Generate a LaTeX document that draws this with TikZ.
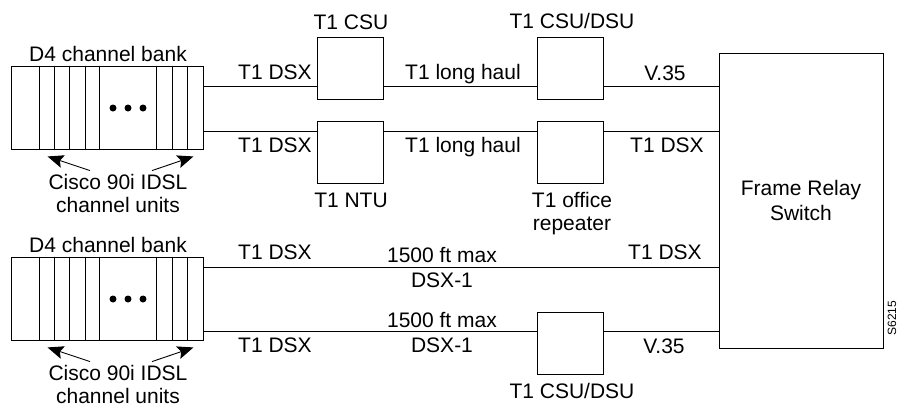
\documentclass[tikz,border=0pt]{standalone}
\usepackage{fontspec}
\setmainfont{Liberation Sans}
\usetikzlibrary{arrows.meta,positioning,calc}
\tikzset{
  devbox/.style={rectangle,draw,line width=0.9pt,inner sep=0pt,
                 minimum width=66pt,minimum height=62pt},
  bankbox/.style={rectangle,draw,line width=0.9pt,inner sep=0pt,
                  minimum width=192pt,minimum height=83pt},
  swbox/.style={rectangle,draw,line width=0.9pt,inner sep=0pt,
                minimum width=164pt,minimum height=295pt,
                font=\fontsize{21}{25}\selectfont,align=center},
  lbl/.style={font=\fontsize{21}{23}\selectfont,anchor=base,
              inner sep=0pt,align=center},
  wire/.style={line width=0.9pt},
  ptr/.style={-{Stealth[length=16pt,width=13pt,inset=3pt]},line width=0.9pt},
}

\begin{document}
\begin{tikzpicture}[x=1pt,y=-1pt]
  \useasboundingbox (0,0) rectangle (898,408);

  % channel banks
  \node[bankbox] (bankA) at (107,107.5){};
  \node[bankbox] (bankB) at (107,298.5){};
  \foreach \b in {bankA,bankB}{
    \foreach \sx in {29,44,59,75,89,146,162,177}
      \draw[wire] ($(\b.north west)+(\sx,0)$) -- ($(\b.south west)+(\sx,0)$);
    \foreach \dx in {6,21,36}
      \fill ($(\b.center)+(\dx,0.5)$) circle (3.5pt);
  }
  \node[lbl] (bankAlbl) at (108,61){D4 channel bank};
  \node[lbl] (bankBlbl) at (108,252){D4 channel bank};

  % base anchor sits on the last line
  \node[lbl] (unitsA) at (118,212){Cisco 90i IDSL\\channel units};
  \node[lbl] (unitsB) at (118,403){Cisco 90i IDSL\\channel units};
  \coordinate (tipAl) at ($(bankA.south west)+(37,7)$);
  \coordinate (tipAr) at ($(bankA.south east)+(-10,7)$);
  \coordinate (tipBl) at ($(bankB.south west)+(37,7)$);
  \coordinate (tipBr) at ($(bankB.south east)+(-10,7)$);
  \draw[ptr] ($(unitsA.north)+(-28,-3)$) -- (tipAl);
  \draw[ptr] ($(unitsA.north)+(34,-3)$) -- (tipAr);
  \draw[ptr] ($(unitsB.north)+(-28,-3)$) -- (tipBl);
  \draw[ptr] ($(unitsB.north)+(34,-3)$) -- (tipBr);

  % line units
  \node[devbox] (csu)     at (350,68){};
  \node[devbox] (ntu)     at (350,152){};
  \node[devbox] (csudsuA) at (570.5,68){};
  \node[devbox] (rptr)    at (570.5,152){};
  \node[devbox] (csudsuB) at (570.5,343){};
  \node[swbox]  (frs)     at (801,200.5){Frame Relay\\Switch};

  \node[lbl] (csulbl)     at (351,29){T1 CSU};
  \node[lbl] (csudsuAlbl) at (572,28){T1 CSU/DSU};
  \node[lbl] (ntulbl)     at (351,207){T1 NTU};
  \node[lbl] (rptrlbl)    at (572,230){T1 office\\repeater};
  \node[lbl] (csudsuBlbl) at (572,398){T1 CSU/DSU};

  % rows
  \coordinate (rowA) at (0,86);
  \coordinate (rowB) at (0,131);
  \coordinate (rowC) at (0,267);
  \coordinate (rowD) at (0,331);

  \draw[wire] (bankA.east |- rowA) -- (csu.west |- rowA);
  \draw[wire] (csu.east |- rowA) -- (csudsuA.west |- rowA);
  \draw[wire] (csudsuA.east |- rowA) -- (frs.west |- rowA);

  \draw[wire] (bankA.east |- rowB) -- (ntu.west |- rowB);
  \draw[wire] (ntu.east |- rowB) -- (rptr.west |- rowB);
  \draw[wire] (rptr.east |- rowB) -- (frs.west |- rowB);

  \draw[wire] (bankB.east |- rowC) -- (frs.west |- rowC);

  \draw[wire] (bankB.east |- rowD) -- (csudsuB.west |- rowD);
  \draw[wire] (csudsuB.east |- rowD) -- (frs.west |- rowD);

  % line labels
  \node[lbl] (dsxA)  at (275,79){T1 DSX};
  \node[lbl] (haulA) at (463,79){T1 long haul};
  \node[lbl] (vA)    at (665,80){V.35};
  \node[lbl] (dsxB)  at (275,152){T1 DSX};
  \node[lbl] (haulB) at (463,152){T1 long haul};
  \node[lbl] (dsxBr) at (667,152){T1 DSX};
  \node[lbl] (dsxC)  at (275,259){T1 DSX};
  \node[lbl] (maxC)  at (442,262){1500 ft max};
  \node[lbl] (dsxoC) at (442,287){DSX-1};
  \node[lbl] (dsxCr) at (665,259){T1 DSX};
  \node[lbl] (dsxD)  at (275,352){T1 DSX};
  \node[lbl] (maxD)  at (442,327){1500 ft max};
  \node[lbl] (dsxoD) at (442,352){DSX-1};
  \node[lbl] (vD)    at (664,353){V.35};

  \node[font=\fontsize{12}{14}\selectfont,rotate=90,inner sep=0pt] (figno) at (892,318){S6215};

\end{tikzpicture}
\end{document}
